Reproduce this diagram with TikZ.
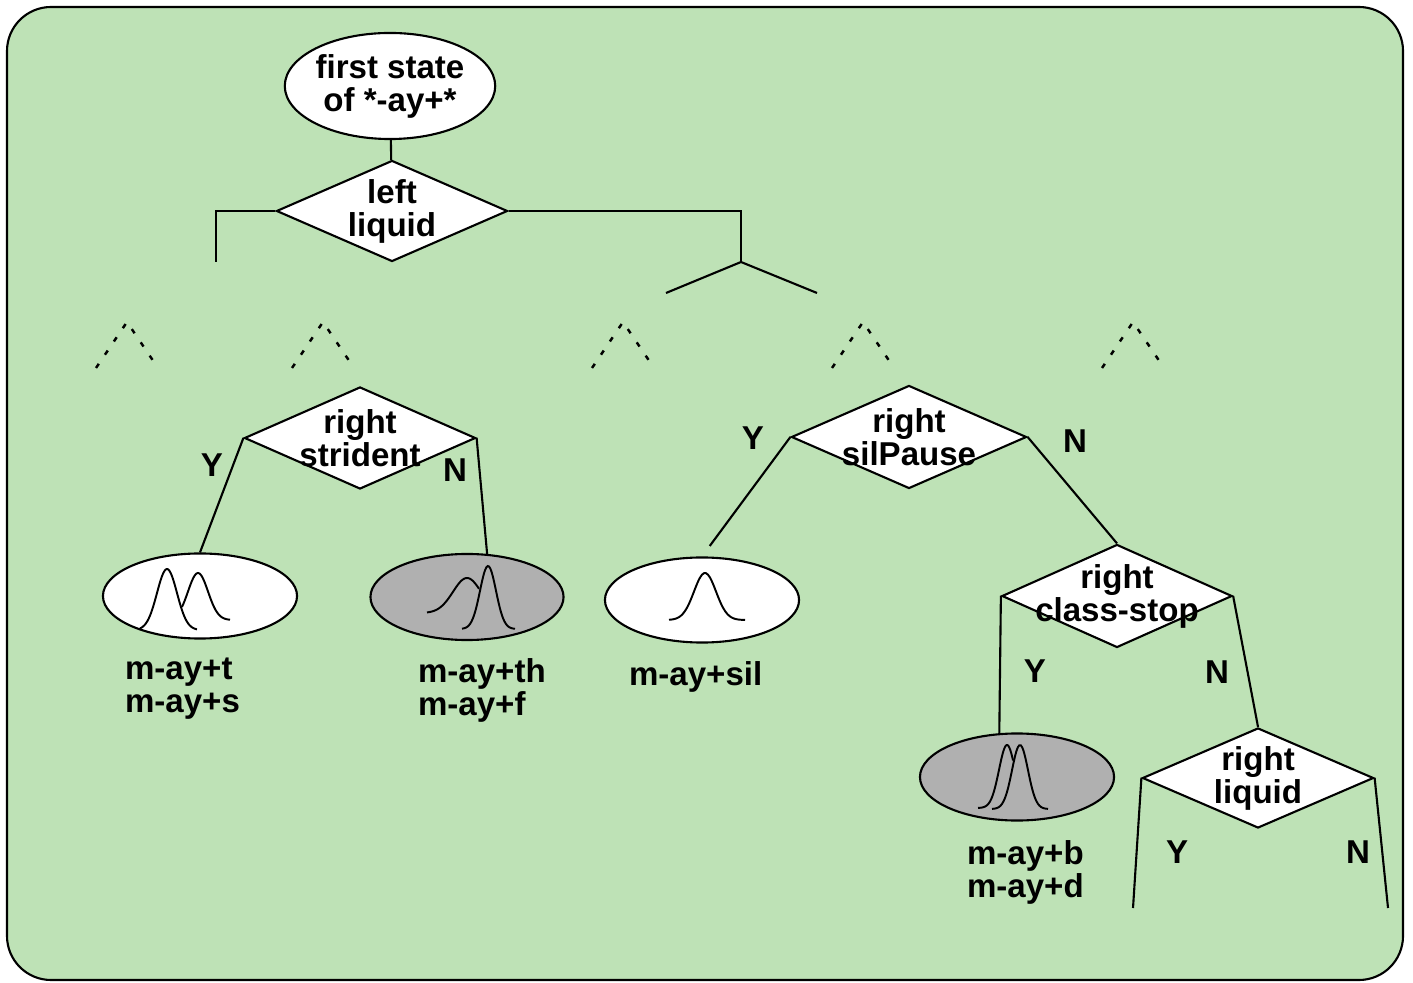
\documentclass[tikz,border=0pt]{standalone}
\usepackage{fontspec}
\setmainfont{Liberation Sans}
\usetikzlibrary{shapes.geometric}

\definecolor{panelgreen}{RGB}{190,226,182}
\definecolor{leafgrey}{RGB}{176,176,176}

\tikzset{
  quest/.style={draw, diamond, fill=white, inner sep=0pt, minimum width=2.31cm, minimum height=1.01cm},
  questtext/.style={align=center, inner sep=0pt},
  leaf/.style={draw, ellipse, fill=white, inner sep=0pt, minimum width=1.94cm, minimum height=0.85cm},
  leafname/.style={align=left, inner sep=0pt, anchor=west},
  curve/.style={line width=0.55pt},
  dots/.style={dash pattern=on 0.05cm off 0.11cm, line width=0.7pt}
}

% bell curve: mu, base, height, sigma, from, to
\newcommand{\bellcurve}[6]{%
  \draw[curve] plot[domain=#5:#6, samples=40, smooth]
    (\x, {#2-#3*exp(-((\x-(#1))/#4)*((\x-(#1))/#4)/2)});}

\begin{document}
\begin{tikzpicture}[x=0.01cm, y=-0.01cm, line width=0.6pt,
    font=\bfseries\fontsize{9.4pt}{9.4pt}\selectfont]
  \useasboundingbox (0,0) rectangle (1413,983);
  \draw[fill=panelgreen, rounded corners=0.44cm] (7,7) rectangle (1403,980);

  \node[draw, ellipse, fill=white, inner sep=0pt, minimum width=2.08cm, minimum height=1.06cm, align=center] (root) at (390,86) {first state\\of *-ay+*};
  \node[quest, label={[questtext]center:left\\liquid}] (leftliq) at (392,211) {};

  \node[quest, minimum height=1.02cm, label={[questtext]center:right\\strident}] (strid) at (360,438) {};
  \node[quest, minimum width=2.35cm, minimum height=1.03cm, label={[questtext]center:right\\silPause}] (silp) at (909,437) {};
  \node[quest, minimum width=2.30cm, minimum height=1.03cm, label={[questtext]center:right\\class-stop}] (cstop) at (1117,596) {};
  \node[quest, minimum height=1.0cm, label={[questtext]center:right\\liquid}] (rliq) at (1258,778) {};

  \node[leaf] (mts) at (200,596) {};
  \node[leaf, fill=leafgrey, minimum width=1.93cm, minimum height=0.86cm] (mthf) at (467,597) {};
  \node[leaf] (msil) at (702,600) {};
  \node[leaf, fill=leafgrey, minimum height=0.87cm] (mbd) at (1017,777) {};

  \node[leafname] (nts) at (124,689) {m-ay+t\\m-ay+s};
  \node[leafname] (nthf) at (417,690) {m-ay+th\\m-ay+f};
  \node[leafname] (nsil) at (628,677) {m-ay+sil};
  \node[leafname] (nbd) at (966,872) {m-ay+b\\m-ay+d};

  % answers
  \node (ys) at (212,465) {Y};
  \node (ns) at (455,470) {N};
  \node (yp) at (753,438) {Y};
  \node (np) at (1075,441) {N};
  \node (yc) at (1035,671) {Y};
  \node (nc) at (1217,672) {N};
  \node (yl) at (1177,852) {Y};
  \node (nl) at (1358,852) {N};

  \coordinate (leftend) at (216,262);
  \coordinate (rjoin) at (741,262);
  \coordinate (rjleft) at (666,293);
  \coordinate (rjright) at (817,293);
  \coordinate (liqy) at (1133,908);
  \coordinate (liqn) at (1388,908);

  \draw (root) -- (leftliq);
  \draw (leftliq.west) -| (leftend);
  \draw (leftliq.east) -| (rjoin);
  \draw (rjoin) -- (rjleft);
  \draw (rjoin) -- (rjright);

  \draw (strid.west) -- (mts.north);
  \draw (strid.east) -- (mthf.65);
  \draw[shorten >=0.13cm] (silp.west) -- (msil.north);
  \draw (silp.east) -- (cstop.north);
  \draw (cstop.west) -- (mbd.112);
  \draw (cstop.east) -- (rliq.north);
  \draw (rliq.west) -- (liqy);
  \draw (rliq.east) -- (liqn);

  % subtrees left out
  \foreach \cx in {127,323,623,863,1133}
    \draw[dots] ({\cx-31},368) -- (\cx,322) -- ({\cx+31},368);

  % densities
  \begin{scope}[shift={(mts.center)}]
    \bellcurve{-33}{34}{61}{10}{-60}{-3}
    \bellcurve{-2}{24}{47}{10}{-18}{30}
  \end{scope}
  \begin{scope}[shift={(mthf.center)}]
    \bellcurve{0}{16}{35}{14}{-40}{12}
    \bellcurve{21}{32}{63}{8}{-5}{48}
  \end{scope}
  \begin{scope}[shift={(msil.center)}]
    \bellcurve{3}{20}{47}{11}{-33}{43}
  \end{scope}
  \begin{scope}[shift={(mbd.center)}]
    \bellcurve{-10}{31}{63}{8}{-39}{-4}
    \bellcurve{3}{32}{64}{8}{-25}{31}
  \end{scope}
\end{tikzpicture}
\end{document}
